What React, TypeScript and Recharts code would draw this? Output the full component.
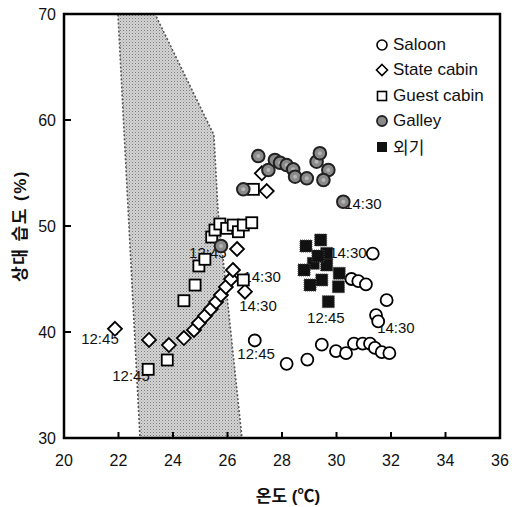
import { ScatterChart, Scatter, XAxis, YAxis, ReferenceArea } from "recharts"

const xTicks = [20, 22, 24, 26, 28, 30, 32, 34, 36]
const yTicks = [30, 40, 50, 60, 70]

// comfort zone outline (temperature, relative humidity)
const zoneT = [21.98, 23.34, 25.5, 25.65, 26.53, 22.79]
const zoneRH = [70, 70, 58.6, 51.5, 30, 30]

const saloonT = [27.0, 28.17, 28.93, 29.46, 29.98, 30.35, 30.64, 30.96, 31.23, 31.41, 31.66, 31.94, 31.45, 31.53, 31.84, 31.33, 30.55, 30.8, 31.08]
const saloonRH = [39.2, 37.0, 37.4, 38.8, 38.2, 38.0, 38.9, 38.9, 38.9, 38.5, 38.1, 38.0, 41.6, 41.0, 43.0, 47.4, 45.0, 44.8, 44.5]

const stateT = [21.87, 23.12, 23.85, 24.4, 24.77, 24.95, 25.17, 25.39, 25.58, 25.76, 25.94, 26.13, 26.2, 26.35, 26.64, 27.26, 27.44]
const stateRH = [40.3, 39.25, 38.77, 39.43, 40.19, 40.85, 41.51, 42.17, 42.83, 43.49, 44.25, 45.0, 45.85, 47.83, 43.8, 54.97, 53.3]

const guestT = [23.09, 23.79, 24.4, 24.81, 24.95, 25.17, 25.42, 25.54, 25.72, 25.97, 26.21, 26.4, 26.58, 26.89, 26.58, 26.95]
const guestRH = [36.48, 37.36, 42.95, 44.43, 46.23, 46.86, 48.96, 49.62, 50.19, 49.78, 50.09, 49.46, 50.09, 50.31, 44.91, 53.46]

const galleyT = [25.76, 26.58, 27.13, 27.5, 27.74, 27.93, 28.17, 28.41, 28.48, 28.91, 29.27, 29.39, 29.7, 29.52, 30.25]
const galleyRH = [48.11, 53.46, 56.6, 55.28, 56.23, 55.97, 55.75, 55.35, 54.65, 54.5, 56.07, 56.86, 55.28, 54.34, 52.29]

const outsideT = [28.88, 29.42, 29.64, 29.15, 28.81, 29.64, 29.46, 29.03, 30.1, 30.07, 29.7, 29.32]
const outsideRH = [48.11, 48.68, 47.42, 46.48, 45.85, 46.32, 44.91, 44.43, 45.54, 44.27, 42.86, 47.17]

const noteText = ["12:45", "12:45", "12:45", "14:30", "14:30", "12:45", "14:30", "14:30", "12:45", "14:30"]
const noteT = [21.32, 22.46, 25.28, 27.27, 27.12, 27.05, 30.97, 30.42, 29.61, 32.18]
const noteRH = [39.4, 35.85, 47.45, 45.2, 42.5, 38.0, 52.1, 47.5, 41.4, 40.4]

const legendNames = ["Saloon", "State cabin", "Guest cabin", "Galley", "외기"]

const toPoints = (t: number[], rh: number[]) => t.map((v, i) => ({ t: v, rh: rh[i] }))

const FONT = '"Liberation Sans", Arial, "Noto Sans CJK KR", sans-serif'

const OpenCircle = ({ cx, cy }: any) => (
  <circle cx={cx} cy={cy} r={6} fill="#fff" stroke="#000" strokeWidth={1.8} />
)
const Diamond = ({ cx, cy }: any) => (
  <path
    d={`M${cx},${cy - 7}L${cx + 7},${cy}L${cx},${cy + 7}L${cx - 7},${cy}Z`}
    fill="#fff"
    stroke="#000"
    strokeWidth={1.8}
  />
)
const OpenSquare = ({ cx, cy }: any) => (
  <rect x={cx - 5.5} y={cy - 5.5} width={11} height={11} fill="#fff" stroke="#000" strokeWidth={1.8} />
)
const GalleyDot = ({ cx, cy }: any) => (
  <g>
    <circle cx={cx} cy={cy} r={6.3} fill="#8a8a8a" stroke="#222" strokeWidth={2} />
    <circle cx={cx} cy={cy} r={2} fill="#b5b5b5" />
  </g>
)
const BlackSquare = ({ cx, cy }: any) => (
  <rect x={cx - 6} y={cy - 6} width={12} height={12} fill="#111" stroke="#444" strokeWidth={1} strokeDasharray="1 1" />
)
const Note = ({ cx, cy, payload }: any) => (
  <text x={cx} y={cy} dy="0.36em" textAnchor="middle" fontSize={15} fontFamily={FONT} fill="#111">
    {payload.label}
  </text>
)

function ZoneShape({ x, y, width, height }: any) {
  const tMin = Math.min(...zoneT)
  const tMax = Math.max(...zoneT)
  const pts = zoneT
    .map((t, i) => {
      const px = x + ((t - tMin) / (tMax - tMin)) * width
      const py = y + ((70 - zoneRH[i]) / 40) * height
      return `${px},${py}`
    })
    .join(" ")
  return (
    <g>
      <defs>
        <pattern id="zoneDots" width={3} height={3} patternUnits="userSpaceOnUse">
          <rect width={3} height={3} fill="#d4d4d4" />
          <rect width={1} height={1} fill="#7a7a7a" />
          <rect x={1.5} y={1.5} width={1} height={1} fill="#a0a0a0" />
        </pattern>
      </defs>
      <polygon points={pts} fill="url(#zoneDots)" stroke="#555" strokeWidth={1.6} strokeDasharray="2 2" />
    </g>
  )
}

function XTick({ x, y, payload }: any) {
  const edge = payload.value === 20 || payload.value === 36
  return (
    <g>
      {!edge && <line x1={x} y1={y} x2={x} y2={y - 6} stroke="#000" strokeWidth={2} />}
      <text x={x} y={y + 28} textAnchor="middle" fontSize={16} fontFamily={FONT} fill="#111">
        {payload.value}
      </text>
    </g>
  )
}

function YTick({ x, y, payload }: any) {
  const edge = payload.value === 30 || payload.value === 70
  return (
    <g>
      {!edge && <line x1={x} y1={y} x2={x + 7} y2={y} stroke="#000" strokeWidth={2} />}
      <text x={x - 8} y={y + 6} textAnchor="end" fontSize={16} fontFamily={FONT} fill="#111">
        {payload.value}
      </text>
    </g>
  )
}

const legendMarkers = [
  <circle cx={7} cy={7} r={5} fill="#fff" stroke="#000" strokeWidth={1.6} />,
  <path d="M7,1.5L12.5,7L7,12.5L1.5,7Z" fill="#fff" stroke="#000" strokeWidth={1.6} />,
  <rect x={2.5} y={2.5} width={9} height={9} fill="#fff" stroke="#000" strokeWidth={1.6} />,
  <circle cx={7} cy={7} r={5} fill="#8a8a8a" stroke="#222" strokeWidth={1.8} />,
  <rect x={2} y={2} width={10} height={10} fill="#111" />,
]

export default function App() {
  const zoneMin = Math.min(...zoneT)
  const zoneMax = Math.max(...zoneT)
  return (
    <div style={{ position: "absolute", left: 0, top: 0, width: 512, height: 507, background: "#fff" }}>
      <ScatterChart width={512} height={507} margin={{ top: 14, right: 12, bottom: 0, left: 0 }}>
        <XAxis
          type="number"
          dataKey="t"
          domain={[20, 36]}
          ticks={xTicks}
          height={69}
          tickSize={0}
          tickMargin={0}
          tick={<XTick />}
          axisLine={false}
          interval={0}
        />
        <YAxis
          type="number"
          dataKey="rh"
          domain={[30, 70]}
          ticks={yTicks}
          width={64}
          tickSize={0}
          tickMargin={0}
          tick={<YTick />}
          axisLine={false}
          interval={0}
        />
        <ReferenceArea
          x1={zoneMin}
          x2={zoneMax}
          y1={30}
          y2={70}
          shape={(p: any) => <ZoneShape {...p} />}
        />
        <ReferenceArea x1={20} x2={36} y1={30} y2={70} fill="none" fillOpacity={0} stroke="#000" strokeWidth={2.5} />
        <Scatter
          data={noteT.map((t, i) => ({ t, rh: noteRH[i], label: noteText[i] }))}
          shape={<Note />}
          isAnimationActive={false}
        />
        <Scatter name="Saloon" data={toPoints(saloonT, saloonRH)} shape={<OpenCircle />} isAnimationActive={false} />
        <Scatter name="State cabin" data={toPoints(stateT, stateRH)} shape={<Diamond />} isAnimationActive={false} />
        <Scatter name="Guest cabin" data={toPoints(guestT, guestRH)} shape={<OpenSquare />} isAnimationActive={false} />
        <Scatter name="Galley" data={toPoints(galleyT, galleyRH)} shape={<GalleyDot />} isAnimationActive={false} />
        <Scatter name="외기" data={toPoints(outsideT, outsideRH)} shape={<BlackSquare />} isAnimationActive={false} />
      </ScatterChart>

      <div style={{ position: "absolute", left: 375, top: 32, fontFamily: FONT, fontSize: 17, color: "#111" }}>
        {legendNames.map((name, i) => (
          <div key={name} style={{ display: "flex", alignItems: "center", height: 25.5 }}>
            <svg width={14} height={14} style={{ marginRight: 4 }}>
              {legendMarkers[i]}
            </svg>
            <span>{name}</span>
          </div>
        ))}
      </div>

      <div
        style={{
          position: "absolute",
          left: 18,
          top: 226,
          transform: "translate(-50%, -50%) rotate(-90deg)",
          whiteSpace: "nowrap",
          fontFamily: FONT,
          fontSize: 17,
          fontWeight: "bold",
          letterSpacing: 1.5,
          color: "#111",
        }}
      >
        상대 습도 (%)
      </div>
      <div
        style={{
          position: "absolute",
          left: 288,
          top: 494,
          transform: "translate(-50%, -50%)",
          whiteSpace: "nowrap",
          fontFamily: FONT,
          fontSize: 17,
          fontWeight: "bold",
          color: "#111",
        }}
      >
        온도 (℃)
      </div>
    </div>
  )
}
